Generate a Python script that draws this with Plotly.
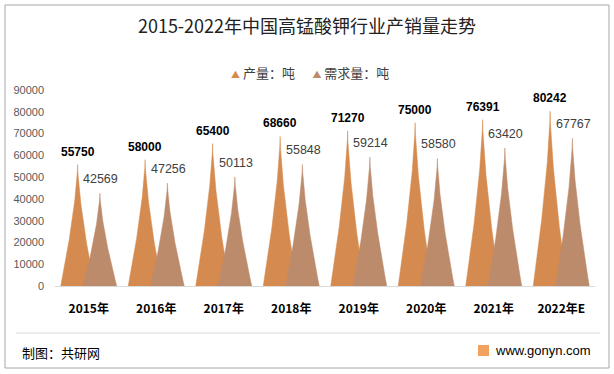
import numpy as np
import plotly.graph_objects as go

years = ["2015年", "2016年", "2017年", "2018年", "2019年", "2020年", "2021年", "2022年E"]
production = [55750, 58000, 65400, 68660, 71270, 75000, 76391, 80242]
demand = [42569, 47256, 50113, 55848, 59214, 58580, 63420, 67767]
series_names = ["产量：吨", "需求量：吨"]

C_PROD = "#D58B4F"
C_DEM = "#BC8B6C"
OFFSET = 0.165
HALF_W = 0.25

W, H = 614, 374
L, R, T, B = 55, 19, 90, 88
PW, PH = W - L - R, H - T - B


def px_x(px):
    return (px - L) / PW


def px_y(py):
    return (H - B - py) / PH


def spikes(values, off):
    xs, ys = [], []
    t = np.linspace(0, 1, 60)
    f = (1 - t) ** 1.45
    for i, v in enumerate(values):
        c = i + off
        lx = c - HALF_W * f
        rx = c + HALF_W * f[::-1]
        xs += list(lx) + list(rx) + [None]
        ys += list(v * t) + list(v * t[::-1]) + [None]
    return xs, ys


fig = go.Figure()
for vals, off, col in [(production, -OFFSET, C_PROD), (demand, OFFSET, C_DEM)]:
    xs, ys = spikes(vals, off)
    fig.add_trace(go.Scatter(x=xs, y=ys, mode="lines", fill="toself",
                             fillcolor=col, line=dict(color=col, width=0.5),
                             showlegend=False, hoverinfo="skip"))

annotations = []
for i, v in enumerate(production):
    annotations.append(dict(x=i - OFFSET, y=v, text="<b>" + str(v) + "</b>", showarrow=False,
                            yanchor="bottom", yshift=4,
                            font=dict(size=12, color="#000000", family="Liberation Sans")))
for i, v in enumerate(demand):
    annotations.append(dict(x=i + OFFSET, y=v, text=str(v), showarrow=False,
                            yanchor="bottom", yshift=5, xshift=1,
                            font=dict(size=12.5, color="#404040", family="Liberation Sans")))

# legend row
legend_text = ('<span style="color:%s;font-size:9px">▲</span> %s'
               '      <span style="color:%s;font-size:9px">▲</span> %s'
               % (C_PROD, series_names[0], C_DEM, series_names[1]))
annotations.append(dict(xref="paper", yref="paper", x=px_x(310), y=px_y(72),
                        text=legend_text, showarrow=False, xanchor="center", yanchor="middle",
                        font=dict(size=13, color="#404040", family="Noto Sans CJK SC")))

annotations.append(dict(xref="paper", yref="paper", x=px_x(20), y=px_y(352),
                        text="制图：共研网", showarrow=False, xanchor="left", yanchor="middle",
                        font=dict(size=13, color="#000000", family="Noto Sans CJK SC")))
annotations.append(dict(xref="paper", yref="paper", x=px_x(593), y=px_y(350),
                        text="www.gonyn.com", showarrow=False, xanchor="right", yanchor="middle",
                        font=dict(size=13, color="#000000", family="Liberation Sans")))

shapes = [
    dict(type="rect", xref="paper", yref="paper", x0=px_x(5), x1=px_x(609),
         y0=px_y(368), y1=px_y(5), line=dict(color="#A6A6A6", width=1)),
    dict(type="line", xref="paper", yref="paper", x0=px_x(16), x1=px_x(600),
         y0=px_y(333), y1=px_y(333), line=dict(color="#D9D9D9", width=1)),
    dict(type="rect", xref="paper", yref="paper", x0=px_x(478), x1=px_x(489),
         y0=px_y(356), y1=px_y(345), line=dict(width=0), fillcolor="#F2A15F"),
]

fig.update_layout(
    width=W, height=H,
    margin=dict(l=L, r=R, t=T, b=B, autoexpand=False),
    showlegend=False,
    paper_bgcolor="white", plot_bgcolor="white",
    title=dict(text="2015-2022年中国高锰酸钾行业产销量走势", x=0.5, xref="container",
               y=1 - 27 / H, yref="container", xanchor="center", yanchor="middle",
               font=dict(size=18, color="#222222", family="Noto Sans CJK SC")),
    xaxis=dict(range=[-0.5, len(years) - 0.5], tickmode="array", automargin=False,
               tickvals=list(range(len(years))), ticktext=["<b>" + y + "</b>" for y in years],
               showgrid=False, zeroline=False, showline=True, linecolor="#D9D9D9", linewidth=1,
               ticks="", ticklabelstandoff=12,
               tickfont=dict(size=12, color="#000000", family="Noto Sans CJK SC")),
    yaxis=dict(range=[0, 90000], dtick=10000, tickformat="d", showgrid=False, zeroline=False,
               showline=False, ticks="", ticklabelstandoff=10, automargin=False,
               tickfont=dict(size=11, color="#595959", family="Liberation Sans")),
    annotations=annotations,
    shapes=shapes,
)

fig.write_html("out.html", config={"displayModeBar": False},
               post_script="document.body.style.margin='0';document.body.style.padding='0';")
